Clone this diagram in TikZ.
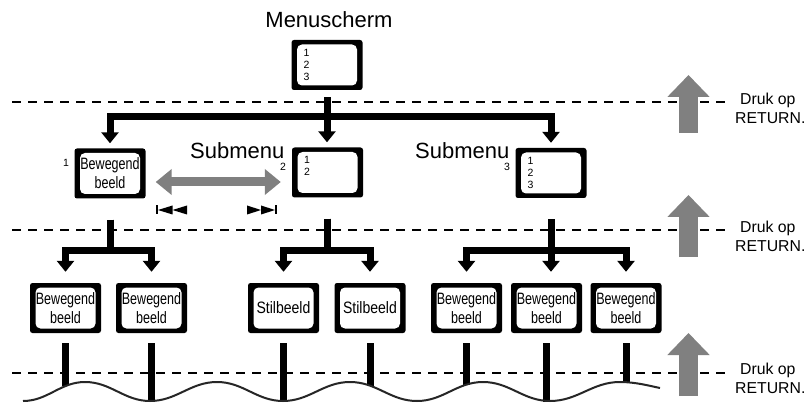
\documentclass[tikz,border=0pt]{standalone}
\usepackage{fontspec}
\setmainfont{Liberation Sans}
\newfontfamily\condfont[FakeStretch=0.76]{Liberation Sans}
\newfontfamily\stilfont[FakeStretch=0.85]{Liberation Sans}
\usetikzlibrary{arrows.meta}
\begin{document}
\begin{tikzpicture}[x=1pt,y=-1pt,
  screen/.style={fill=black, rounded corners=2.5pt, minimum width=71pt, minimum height=50pt,
    inner sep=0pt, align=center, font=\condfont\fontsize{16.5}{19}\selectfont,
    path picture={\fill[white, rounded corners=5pt]
      ([shift={(5.5pt,4.5pt)}]path picture bounding box.south west) rectangle
      ([shift={(-5.5pt,-4.5pt)}]path picture bounding box.north east);}},
  num/.style={font=\fontsize{10.5}{12}\selectfont, align=left, inner sep=0pt, anchor=north west},
  tree/.style={line width=7pt, line join=miter, -{Triangle[width=17pt,length=11pt]}},
  stem/.style={line width=7pt},
  dashline/.style={line width=2pt, dash pattern=on 9pt off 7pt},
  uparrow/.style={draw=gray, line width=19pt, -{Triangle[width=41pt,length=22pt]}},
  dblarrow/.style={draw=gray, line width=9pt, {Triangle[width=25pt,length=16pt]}-{Triangle[width=25pt,length=16pt]}},
  wave/.style={line width=2pt, draw=black!85},
  ret/.style={anchor=west, align=left, inner sep=0pt, font=\fontsize{15.8}{19}\selectfont},
  big/.style={font=\fontsize{22}{26}\selectfont, inner sep=0pt},
  small/.style={font=\fontsize{10.5}{12}\selectfont, inner sep=0pt}
]
\useasboundingbox (0,0) rectangle (810,403);
\fill[white] (0,0) rectangle (810,403);

% dashed lines
\coordinate (dl1) at (12,102);  \coordinate (dr1) at (725,102);
\coordinate (dl2) at (12,230);  \coordinate (dr2) at (725,230);
\coordinate (dl3) at (12,373);  \coordinate (dr3) at (725,373);
\draw[dashline] (dl1) -- (dr1);
\draw[dashline] (dl2) -- (dr2);
\draw[dashline] (dl3) -- (dr3);

% title
\node[big] (title) at (329,20) {Menuscherm};

% screens
\node[screen] (menu) at (327,65) {};
\node[num] (mnum) at ([shift={(12pt,-9pt)}]menu.north west) {1\\2\\3};

\node[screen] (s1) at (110,173.5) {Bewegend\\beeld};
\node[screen] (s2) at (327.5,172.5) {};
\node[num] (s2num) at ([shift={(12pt,-9pt)}]s2.north west) {1\\2};
\node[screen] (s3) at (551,173) {};
\node[num] (s3num) at ([shift={(12pt,-9pt)}]s3.north west) {1\\2\\3};

\node[small] (one) at (66,163) {1};
\node[big, anchor=base west] (sub2) at (190,159) {Submenu};
\node[small] (sub2n) at (283,167) {2};
\node[big, anchor=base west] (sub3) at (415,159) {Submenu};
\node[small] (sub3n) at (507,167) {3};

\node[screen] (A) at (65.5,308) {Bewegend\\beeld};
\node[screen] (B) at (151.5,308) {Bewegend\\beeld};
\node[screen, font=\stilfont\fontsize{16.5}{19}\selectfont] (C) at (283.5,308) {Stilbeeld};
\node[screen, font=\stilfont\fontsize{16.5}{19}\selectfont] (D) at (370,308) {Stilbeeld};
\node[screen] (E) at (466.5,308) {Bewegend\\beeld};
\node[screen] (F) at (546.5,308) {Bewegend\\beeld};
\node[screen] (G) at (626,308) {Bewegend\\beeld};

% level 1 tree
\coordinate (b1) at (0,116.5);
\draw[tree, shorten >=5pt] ([yshift=-7pt]menu.south) |- (s1.north |- b1) -- (s1.north);
\draw[tree, shorten >=5pt] ([yshift=-7pt]menu.south) -- (menu.south |- s2.north);
\draw[tree, shorten >=5pt] ([yshift=-7pt]menu.south) |- (s3.north |- b1) -- (s3.north);

% level 2 tree
\coordinate (b2) at (0,250);
\draw[tree, shorten >=11pt] ([yshift=-21pt]s1.south) |- (A.north |- b2) -- (A.north);
\draw[tree, shorten >=11pt] ([yshift=-21pt]s1.south) |- (B.north |- b2) -- (B.north);
\draw[tree, shorten >=11pt] ([yshift=-21pt]s2.south) |- (C.north |- b2) -- (C.north);
\draw[tree, shorten >=11pt] ([yshift=-21pt]s2.south) |- (D.north |- b2) -- (D.north);
\draw[tree, shorten >=11pt] ([yshift=-21pt]s3.south) |- (E.north |- b2) -- (E.north);
\draw[tree, shorten >=11pt] ([yshift=-21pt]s3.south) -- (s3.south |- F.north);
\draw[tree, shorten >=11pt] ([yshift=-21pt]s3.south) |- (G.north |- b2) -- (G.north);

% double arrow and skip symbols
\coordinate (ay) at (0,182);
\draw[dblarrow, shorten <=10pt, shorten >=11pt] (s1.east |- ay) -- (s2.west |- ay);
\fill (156,205.5) rectangle (158,214.5);
\fill (158,210) -- (172.5,205.5) -- (172.5,214.5) -- cycle;
\fill (172.5,210) -- (187,205.5) -- (187,214.5) -- cycle;
\fill (247,205.5) -- (261,210) -- (247,214.5) -- cycle;
\fill (261,205.5) -- (275,210) -- (261,214.5) -- cycle;
\fill (275,205.5) rectangle (277,214.5);

% level 3 stems
\draw[stem] ([yshift=-10pt]A.south) -- ++(0,43);
\draw[stem] ([yshift=-10pt]B.south) -- ++(0,59);
\draw[stem] ([yshift=-10pt]C.south) -- ++(0,59);
\draw[stem] ([yshift=-10pt]D.south) -- ++(0,43);
\draw[stem] ([yshift=-10pt]E.south) -- ++(0,42);
\draw[stem] ([yshift=-10pt]F.south) -- ++(0,59);
\draw[stem] ([yshift=-10pt]G.south) -- ++(0,39);

% wave
\draw[wave] (23,401)
  .. controls (47.8,401) and (60.2,382) .. (85,382)
  .. controls (111,382) and (124,401) .. (150,401)
  .. controls (176.8,401) and (190.2,382) .. (217,382)
  .. controls (243.4,382) and (256.6,401) .. (283,401)
  .. controls (309.8,401) and (323.2,382) .. (350,382)
  .. controls (376.8,382) and (390.2,401) .. (417,401)
  .. controls (443.4,401) and (456.6,382) .. (483,382)
  .. controls (509.8,382) and (523.2,401) .. (550,401)
  .. controls (578,401) and (592,382) .. (620,382)
  .. controls (636,382) and (650,386) .. (660,388);

% gray up arrows
\coordinate (u1b) at (688.5,133); \coordinate (u1t) at (688.5,75);
\coordinate (u2b) at (688.5,257); \coordinate (u2t) at (688.5,195);
\coordinate (u3b) at (688.5,396); \coordinate (u3t) at (688.5,333);
\draw[uparrow] (u1b) -- (u1t);
\draw[uparrow] (u2b) -- (u2t);
\draw[uparrow] (u3b) -- (u3t);

% labels
\node[ret] (r1) at (735,108) {\hspace*{5pt}Druk op\\RETURN.};
\node[ret] (r2) at (735,236) {\hspace*{5pt}Druk op\\RETURN.};
\node[ret] (r3) at (735,378) {\hspace*{5pt}Druk op\\RETURN.};
\end{tikzpicture}
\end{document}
